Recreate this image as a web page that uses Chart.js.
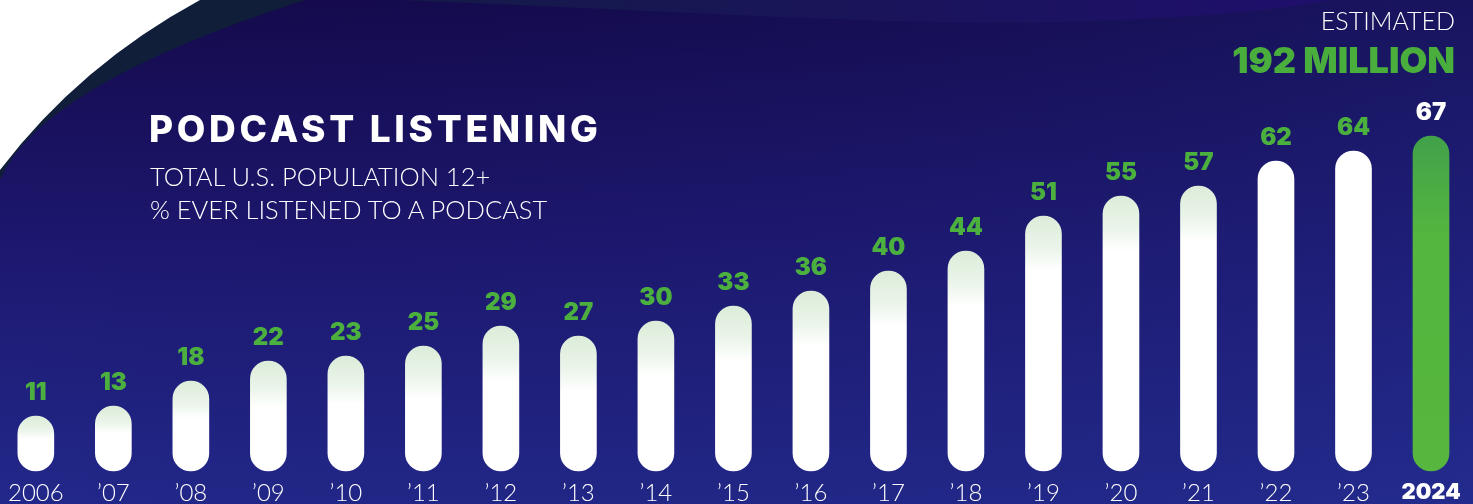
<!DOCTYPE html>
<html>
<head>
<meta charset="utf-8">
<title>Podcast Listening</title>
<script src="https://cdn.jsdelivr.net/npm/chart.js@4"></script>
<style>
    html, body {
        margin: 0;
        padding: 0;
        width: 1473px;
        height: 504px;
        overflow: hidden;
        background: #1b1466;
    }

    #wrap {
        position: relative;
        width: 1473px;
        height: 504px;
    }

    #podcastChart {
        position: absolute;
        left: 0;
        top: 0;
    }

    .txt {
        position: absolute;
        color: #ffffff;
        white-space: nowrap;
        font-family: "Lato", "Open Sans", sans-serif;
    }

    #title {
        left: 149px;
        top: 106px;
        font-family: "Inter", "Open Sans", sans-serif;
        font-weight: 800;
        font-size: 37px;
        letter-spacing: 3.7px;
        line-height: 46px;
    }

    #subtitle {
        left: 150px;
        top: 160px;
        font-size: 25.5px;
        font-weight: 300;
        line-height: 33px;
    }

    #estimated {
        right: 18px;
        top: 4px;
        font-size: 25px;
        font-weight: 300;
        line-height: 32px;
    }

    #million {
        right: 18px;
        top: 37px;
        font-family: "Inter", "Open Sans", sans-serif;
        font-weight: 900;
        font-size: 36px;
        line-height: 46px;
        color: #4aae3c;
    }
</style>
</head>
<body>

<div id="wrap">
    <canvas id="podcastChart" width="1473" height="504"></canvas>
    <div class="txt" id="title">PODCAST LISTENING</div>
    <div class="txt" id="subtitle">TOTAL U.S. POPULATION 12+<br>% EVER LISTENED TO A PODCAST</div>
    <div class="txt" id="estimated">ESTIMATED</div>
    <div class="txt" id="million">192 MILLION</div>
</div>

<script>

// =========================================
// Data
// =========================================

const years = [
    "2006", "’07", "’08", "’09", "’10", "’11", "’12", "’13", "’14", "’15",
    "’16", "’17", "’18", "’19", "’20", "’21", "’22", "’23", "2024"
];

const everListened = [
    11, 13, 18, 22, 23, 25, 29, 27, 30, 33,
    36, 40, 44, 51, 55, 57, 62, 64, 67
];

const lastIndex = years.length - 1;


// =========================================
// Background
// =========================================

const backgroundPlugin = {

    id: "background",

    beforeDraw(chart) {

        const ctx = chart.ctx;
        const w = chart.width;
        const h = chart.height;

        ctx.save();

        // navy body
        const bg = ctx.createLinearGradient(0, 0, 0, h);
        bg.addColorStop(0, "#140a4c");
        bg.addColorStop(0.5, "#1d1870");
        bg.addColorStop(1, "#22288a");
        ctx.fillStyle = bg;
        ctx.fillRect(0, 0, w, h);

        const side = ctx.createLinearGradient(0, 0, w, 0);
        side.addColorStop(0, "rgba(20, 10, 70, 0.0)");
        side.addColorStop(1, "rgba(36, 52, 150, 0.25)");
        ctx.fillStyle = side;
        ctx.fillRect(0, 0, w, h);

        // lighter wave at the top
        const wave = ctx.createLinearGradient(420, 0, 1320, 0);
        wave.addColorStop(0, "#141a48");
        wave.addColorStop(1, "#1f0f6c");
        ctx.fillStyle = wave;
        ctx.beginPath();
        ctx.moveTo(400, 0);
        ctx.bezierCurveTo(700, 12, 900, 26, 1060, 22);
        ctx.bezierCurveTo(1200, 18, 1280, 10, 1330, 0);
        ctx.closePath();
        ctx.fill();

        // dark edge band
        ctx.fillStyle = "#111e3a";
        ctx.beginPath();
        ctx.moveTo(0, 0);
        ctx.lineTo(305, 0);
        ctx.quadraticCurveTo(40, 85, 0, 180);
        ctx.closePath();
        ctx.fill();

        // white corner
        ctx.fillStyle = "#ffffff";
        ctx.beginPath();
        ctx.moveTo(0, 0);
        ctx.lineTo(200, 0);
        ctx.quadraticCurveTo(80, 65, 0, 170);
        ctx.closePath();
        ctx.fill();

        ctx.restore();

    }

};


// =========================================
// Value Labels
// =========================================

const valueLabelPlugin = {

    id: "valueLabels",

    afterDatasetsDraw(chart) {

        const ctx = chart.ctx;
        const meta = chart.getDatasetMeta(0);

        ctx.save();
        ctx.textAlign = "center";
        ctx.textBaseline = "bottom";
        ctx.font = "900 24px Inter, 'Open Sans', sans-serif";

        meta.data.forEach((bar, i) => {

            ctx.fillStyle = i === lastIndex ? "#ffffff" : "#4cb03f";
            ctx.fillText(String(everListened[i]), bar.x, bar.y - 11);

        });

        ctx.restore();

    }

};


// =========================================
// Bar Colours
// =========================================

function barColour(context) {

    const chart = context.chart;
    const area = chart.chartArea;

    if (!area) {

        return "#ffffff";

    }

    const i = context.dataIndex;
    const value = everListened[i];
    const top = chart.scales.y.getPixelForValue(value);
    const base = chart.scales.y.getPixelForValue(0);
    const ctx = chart.ctx;

    if (i === lastIndex) {

        const g = ctx.createLinearGradient(0, top, 0, base);
        g.addColorStop(0, "#41a14a");
        g.addColorStop(0.3, "#54b63f");
        g.addColorStop(1, "#56b63e");
        return g;

    }

    if (i >= 16) {

        return "#ffffff";

    }

    const fade = Math.min(0.42, 55 / (base - top));
    const g = ctx.createLinearGradient(0, top, 0, base);
    g.addColorStop(0, "#dcecd9");
    g.addColorStop(fade * 0.6, "#ebf5ea");
    g.addColorStop(fade, "#ffffff");
    g.addColorStop(1, "#ffffff");
    return g;

}


// =========================================
// Chart
// =========================================

const chart = new Chart(document.getElementById("podcastChart"), {

    type: "bar",

    data: {

        labels: years,

        datasets: [{

            data: everListened,

            backgroundColor: barColour,

            borderRadius: 18,

            borderSkipped: false,

            barThickness: 36,

            clip: false

        }]

    },

    options: {

        responsive: false,

        animation: false,

        layout: {

            padding: {

                left: 35,

                right: 42,

                top: 0,

                bottom: 0

            }

        },

        plugins: {

            legend: {

                display: false

            },

            tooltip: {

                enabled: false

            }

        },

        scales: {

            x: {

                offset: false,

                grid: {

                    display: false,

                    drawTicks: false

                },

                border: {

                    display: false

                },

                ticks: {

                    color: "#ffffff",

                    padding: 8,

                    maxRotation: 0,

                    autoSkip: false,

                    font: (ctx) => ctx.index === lastIndex
                        ? { family: "Inter, 'Open Sans', sans-serif", size: 22, weight: "900" }
                        : { family: "Lato, 'Open Sans', sans-serif", size: 24, weight: "300" }

                },

                afterFit: (scale) => {

                    scale.height = 33;

                }

            },

            y: {

                display: false,

                min: 0,

                max: 94.2

            }

        }

    },

    plugins: [backgroundPlugin, valueLabelPlugin]

});

</script>

</body>
</html>
